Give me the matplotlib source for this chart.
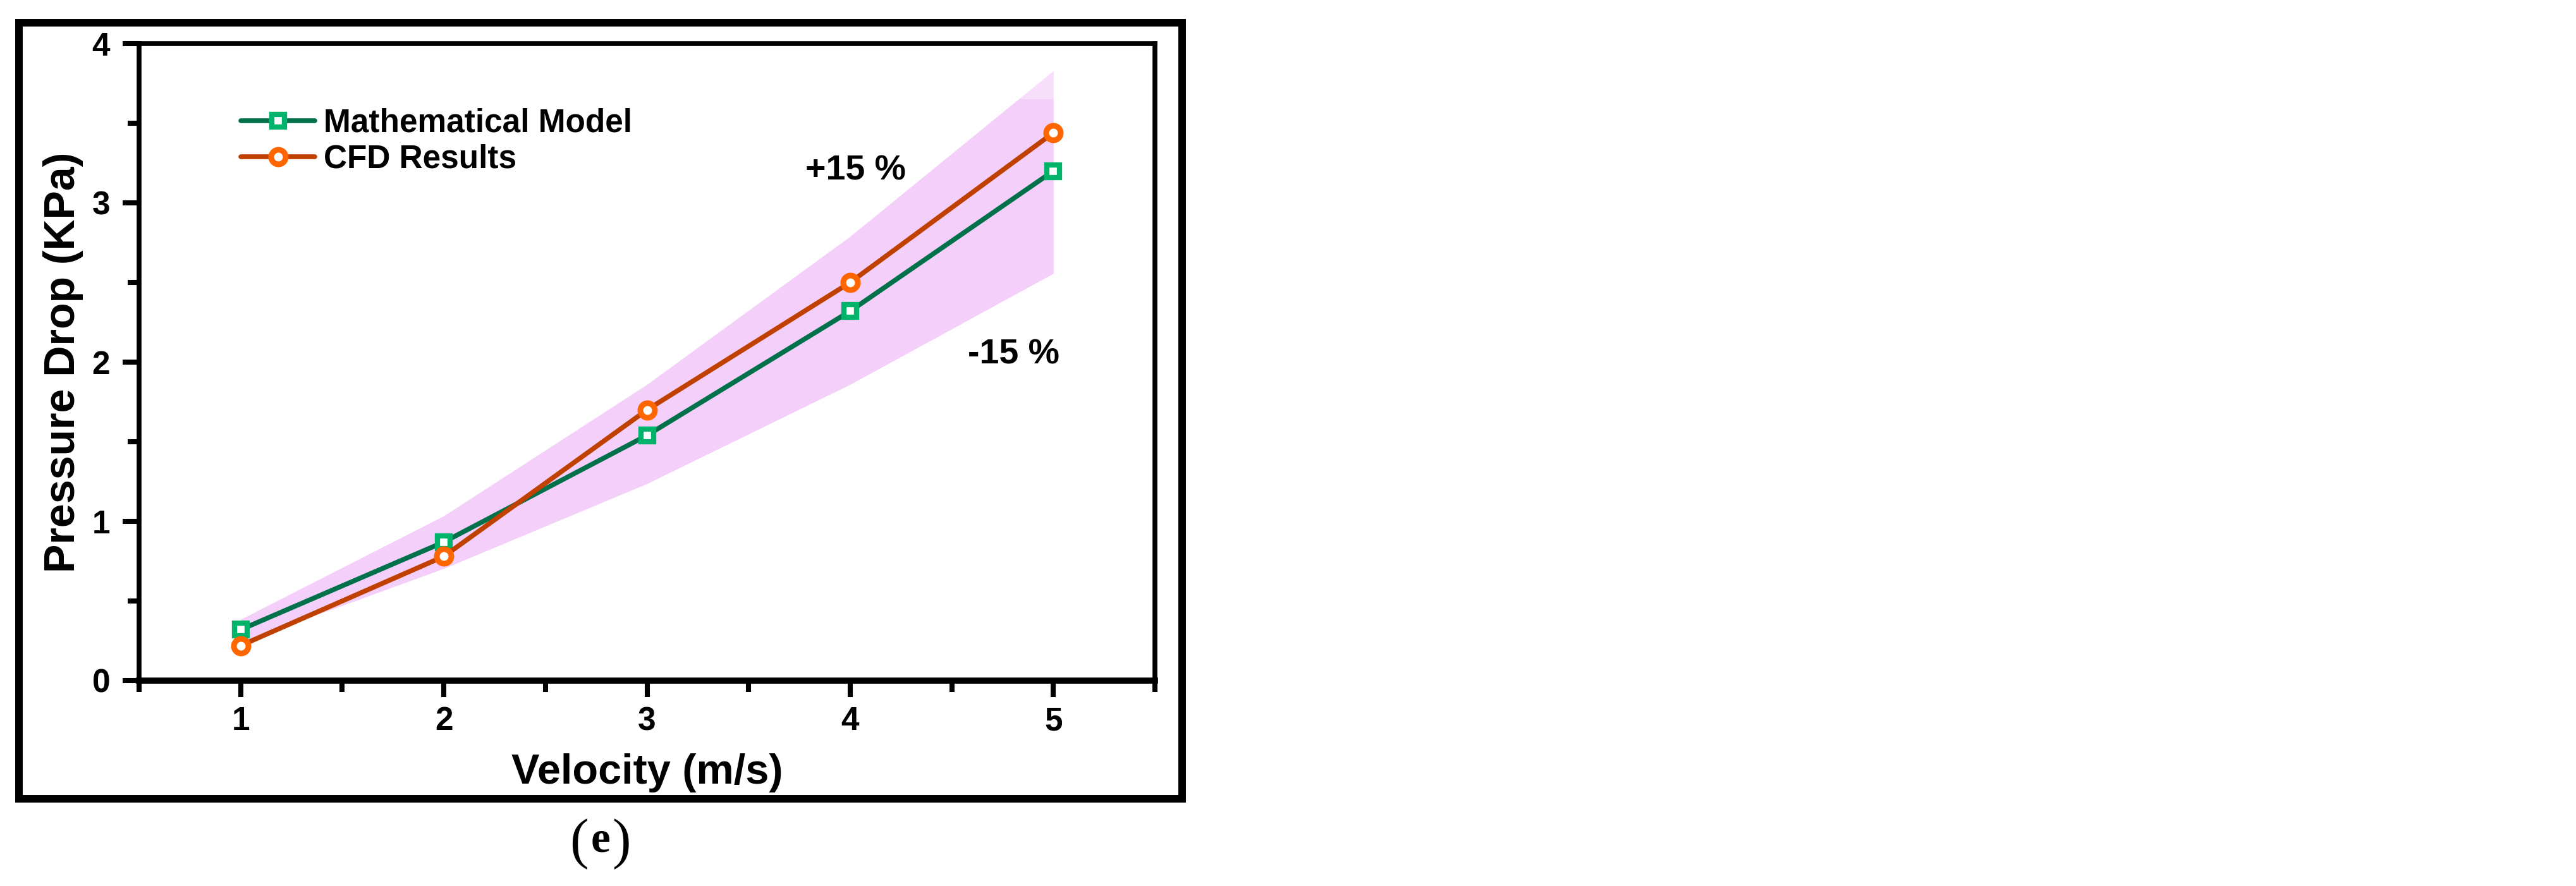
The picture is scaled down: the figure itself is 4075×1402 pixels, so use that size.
import matplotlib
matplotlib.use("Agg")
import matplotlib.pyplot as plt
from matplotlib.patches import Rectangle
from matplotlib.ticker import MultipleLocator

plt.rcParams['font.family'] = ['Liberation Sans', 'DejaVu Sans']
plt.rcParams['font.weight'] = 'bold'

# data
velocity = [1, 2, 3, 4, 5]
math_model = [0.32, 0.87, 1.54, 2.32, 3.20]
cfd_results = [0.22, 0.78, 1.70, 2.50, 3.44]
band_upper = [0.385, 1.035, 1.86, 2.79, 3.83]
band_lower = [0.24, 0.704, 1.237, 1.86, 2.557]

W, H = 4075, 1402
fig = plt.figure(figsize=(W / 100, H / 100), dpi=100)

# axes box (pixel positions of the spines)
x0, x1 = 220, 1827
y_top, y_bot = 69, 1077
ax = fig.add_axes([x0 / W, 1 - y_bot / H, (x1 - x0) / W, (y_bot - y_top) / H])
ax.set_facecolor('none')

# +-15 % band
ax.fill_between(velocity, band_lower, band_upper, color='#f4cffa', lw=0, zorder=1)
ax.axhspan(3.65, 4.0, color='white', alpha=0.35, lw=0, zorder=1.5)

ax.plot(velocity, math_model, color='#00714a', lw=5.5, solid_capstyle='round',
        marker='s', ms=14, mew=6, mec='#00b36b', mfc='white',
        label='Mathematical Model', zorder=3)
ax.plot(velocity, cfd_results, color='#c04000', lw=5.5, solid_capstyle='round',
        marker='o', ms=16.5, mew=6.5, mec='#ff6600', mfc='white',
        label='CFD Results', zorder=3)

ax.text(4.274, 3.143, '+15 %', fontsize=40, fontweight='bold', ha='right', va='baseline')
ax.text(4.579, 1.992, '-15 %', fontsize=40, fontweight='bold', ha='left', va='baseline')

ax.set_xlim(0.5, 5.5)
ax.set_ylim(0, 4)
ax.xaxis.set_major_locator(MultipleLocator(1))
ax.xaxis.set_minor_locator(MultipleLocator(0.5))
ax.yaxis.set_major_locator(MultipleLocator(1))
ax.yaxis.set_minor_locator(MultipleLocator(0.5))

for s in ['left', 'right', 'top']:
    ax.spines[s].set_linewidth(5.5)
ax.spines['bottom'].set_linewidth(7)

ax.tick_params(which='major', direction='out', length=19, width=5.8, labelsize=37)
ax.tick_params(which='minor', direction='out', length=13, width=5.8)
ax.tick_params(axis='x', which='major', pad=10)
ax.tick_params(axis='y', which='major', pad=14)
ax.tick_params(top=False, right=False, which='both')
for lab in ax.get_xticklabels() + ax.get_yticklabels():
    lab.set_fontweight('bold')

ax.set_xlabel('Velocity (m/s)', fontsize=48, fontweight='bold', va='baseline')
ax.xaxis.set_label_coords(0.5, (y_bot - 1240) / (y_bot - y_top))
ax.set_ylabel('Pressure Drop (KPa)', fontsize=49, fontweight='bold')
ax.yaxis.set_label_coords((132 - x0) / (x1 - x0), 0.5)

leg = ax.legend(loc='upper left', bbox_to_anchor=(0.1002, 0.899), frameon=False,
                borderpad=0, borderaxespad=0, handlelength=2.28, handletextpad=0.27,
                labelspacing=0.15, numpoints=1,
                prop={'size': 37, 'weight': 'bold'})

# outer frame
fig.add_artist(Rectangle((30 / W, 1 - 1264 / H), (1870 - 30) / W, (1264 - 36) / H,
                         transform=fig.transFigure, fill=False, lw=8.6,
                         edgecolor='black', joinstyle='miter'))

# panel label
fig.text(916 / W, 1 - 1357 / H, '(', family='Liberation Serif', fontsize=64,
         fontweight='normal', ha='center', va='baseline')
fig.text(950 / W, 1 - 1348 / H, 'e', family='Liberation Serif', fontsize=50,
         fontweight='bold', ha='center', va='baseline')
fig.text(983 / W, 1 - 1357 / H, ')', family='Liberation Serif', fontsize=64,
         fontweight='normal', ha='center', va='baseline')

fig.savefig('out.png', dpi=100, facecolor='white')
